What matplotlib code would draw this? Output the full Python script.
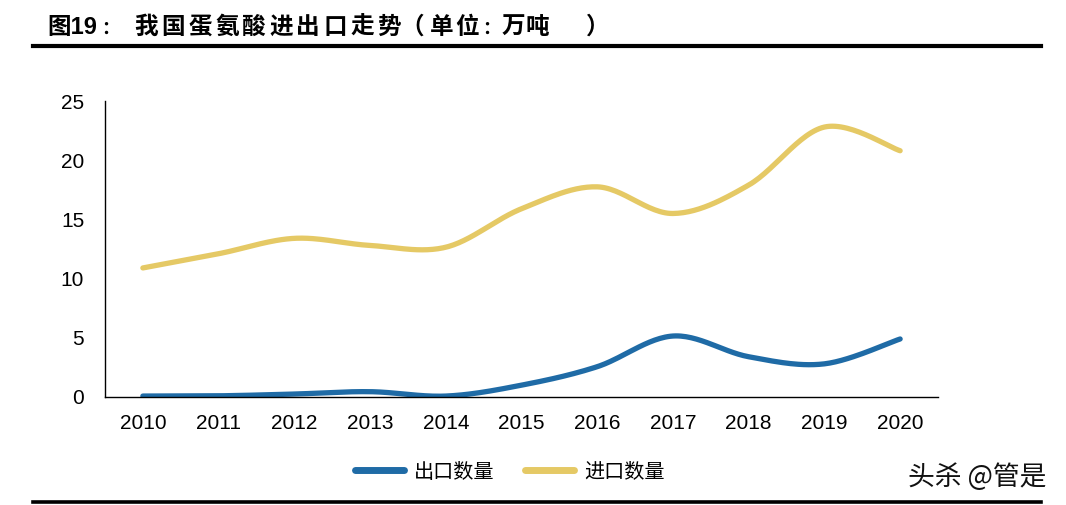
import numpy as np
import matplotlib
matplotlib.use("Agg")
import matplotlib.pyplot as plt
from matplotlib.lines import Line2D

plt.rcParams['font.family'] = ['Liberation Sans', 'Noto Sans CJK SC', 'DejaVu Sans']

years = ['2010', '2011', '2012', '2013', '2014', '2015', '2016', '2017', '2018', '2019', '2020']
export_qty = [0.08, 0.1, 0.25, 0.45, 0.08, 1.0, 2.56, 5.15, 3.4, 2.8, 4.9]
import_qty = [10.9, 12.1, 13.4, 12.8, 12.65, 15.9, 17.75, 15.5, 17.9, 22.8, 20.8]
series_names = ['出口数量', '进口数量']

title_head = '图19'
title_body = '：我国蛋氨酸进出口走势（单位：万吨）'
watermark = '头杀 @管是'

BLUE = '#1f6ba6'
YELLOW = '#e5c965'
W, H = 1066, 505


def smooth(xs, ys, n=30):
    # excel-like smoothed line: cubic bezier with catmull-rom control points
    p = np.column_stack([xs, ys]).astype(float)
    pp = np.vstack([p[0], p, p[-1]])
    out = []
    t = np.linspace(0, 1, n)[:, None]
    for i in range(len(p) - 1):
        p0 = pp[i + 1]
        p3 = pp[i + 2]
        c1 = p0 + (pp[i + 2] - pp[i]) / 6.0
        c2 = p3 - (pp[i + 3] - pp[i + 1]) / 6.0
        seg = (1 - t) ** 3 * p0 + 3 * (1 - t) ** 2 * t * c1 + 3 * (1 - t) * t ** 2 * c2 + t ** 3 * p3
        out.append(seg if i == 0 else seg[1:])
    out = np.vstack(out)
    return out[:, 0], out[:, 1]


fig = plt.figure(figsize=(W / 100, H / 100), dpi=100)
ax = fig.add_axes([105 / W, 1 - 397 / H, (938 - 105) / W, (397 - 101) / H])

x = np.arange(len(years))
for vals, name, col in [(export_qty, series_names[0], BLUE), (import_qty, series_names[1], YELLOW)]:
    sx, sy = smooth(x, vals)
    ax.plot(sx, sy, color=col, lw=3.8, solid_capstyle='round', label=name)

ax.set_xlim(-0.5, len(years) - 0.5)
ax.set_ylim(0, 25)
ax.set_xticks(x)
ax.set_xticklabels(years)
ax.set_yticks([0, 5, 10, 15, 20, 25])
ax.tick_params(length=0, labelsize=15, colors='black')
ax.tick_params(axis='y', pad=15)
ax.tick_params(axis='x', pad=12)
for s in ['top', 'right']:
    ax.spines[s].set_visible(False)
ax.spines['left'].set_linewidth(1.0)
ax.spines['bottom'].set_linewidth(1.0)

leg_handles = [Line2D([], [], color=BLUE, lw=5, solid_capstyle='round'),
               Line2D([], [], color=YELLOW, lw=5, solid_capstyle='round')]
fig.legend(leg_handles, series_names, loc='center', bbox_to_anchor=(510 / W, 1 - 472 / H),
           ncol=2, frameon=False, handlelength=2.45, handletextpad=0.5, columnspacing=1.5,
           prop={'family': ['Noto Sans CJK SC'], 'size': 14.5})

# title, letter-spaced like the source (glyph centres in px)
TS = 17
base = 1 - 34 / H
fig.text(47 / W, base, title_head, fontsize=TS, fontweight='bold', va='baseline', ha='left')
char_x = [104.5, 146, 173, 200, 227, 254, 281, 308, 335, 362, 389,
          419.5, 442, 467, 485, 513, 537, 590]
# fullwidth punctuation sits off-centre in its em box
ink_shift = {'：': 6, '（': -7, '）': 8}
for ch, cx in zip(title_body, char_x):
    cx += ink_shift.get(ch, 0)
    fs = 13 if ch == '：' else TS
    fig.text(cx / W, base, ch, fontsize=fs, fontweight='bold', va='baseline', ha='center',
             family=['Noto Sans CJK SC'])

fig.add_artist(Line2D([33 / W, 1041 / W], [1 - 45.5 / H] * 2, color='black', lw=3.0,
                      transform=fig.transFigure))
fig.add_artist(Line2D([33 / W, 1041 / W], [1 - 502 / H] * 2, color='black', lw=2.6,
                      transform=fig.transFigure))
fig.text(908 / W, 1 - 477 / H, watermark, fontsize=19.3, va='center', ha='left',
         family=['Noto Sans CJK SC'], fontweight='light', color='#111111')

fig.savefig('out.png', dpi=100)
